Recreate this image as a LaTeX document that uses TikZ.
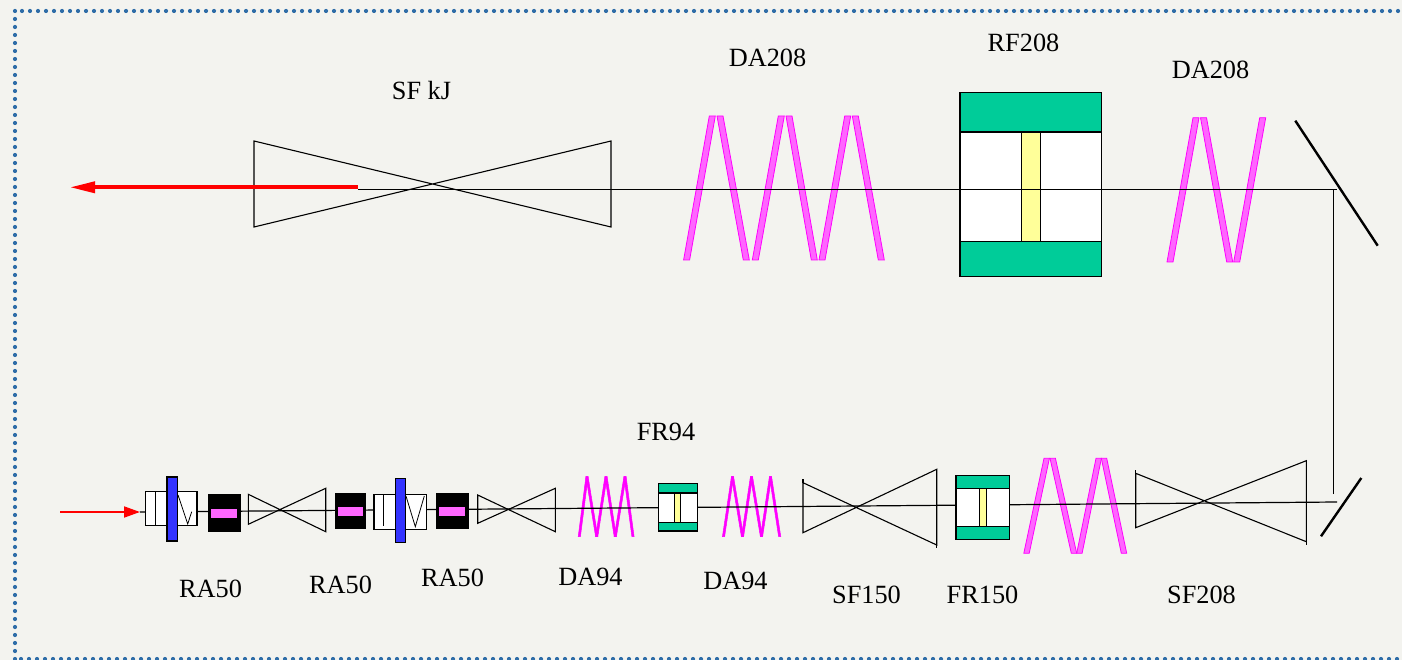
\documentclass[tikz,border=0pt]{standalone}
\usepackage{fontspec}
\setmainfont{Liberation Serif}
\usetikzlibrary{arrows.meta}
\definecolor{paper}{HTML}{F3F3EF}
\definecolor{borderblue}{HTML}{2F6DA8}
\definecolor{rodgreen}{HTML}{00CC99}
\definecolor{rodyellow}{HTML}{FFFF99}
\definecolor{plateblue}{HTML}{3333FF}
\definecolor{legpink}{HTML}{FF66FF}
\definecolor{legedge}{HTML}{FF00FF}
\definecolor{laserred}{HTML}{FF0000}
\tikzset{
borderdots/.style={draw=borderblue,line width=4.2pt,line cap=round,dash pattern=on 0pt off 8pt},
part/.style={draw=black,line width=1.1pt},
beam/.style={draw=black,line width=1.2pt},
mirror/.style={draw=black,line width=2.4pt},
leg/.style={draw=legedge,fill=legpink,line width=0.8pt},
legthin/.style={leg/.append style={fill=legedge,line width=0.5pt}},
laser/.style={draw=laserred,line width=1.8pt,-{Triangle[length=16pt,width=11pt]}},
laserout/.style={draw=laserred,line width=3.6pt,-{Triangle[length=25pt,width=11pt]}},
tag/.style={font=\fontsize{26.3}{30}\selectfont,text=black,inner sep=0pt}
}
\newcommand{\spatialfilter}[6]{\draw[part] (#1,#2) -- (#4,#6) -- (#4,#5) -- (#1,#3) -- cycle;}
\newcommand{\zigzag}[4]{\foreach \xb/\xt in {#4} {\path[leg] (\xb,#2) -- (\xb+#3,#2) -- (\xt+#3,#1) -- (\xt,#1) -- cycle;}}
\newcommand{\rotator}[8]{%
\filldraw[part,fill=white] (#1,#3) rectangle (#2,#6);
\filldraw[part,fill=rodgreen] (#1,#3) rectangle (#2,#4);
\filldraw[part,fill=rodgreen] (#1,#5) rectangle (#2,#6);
\filldraw[part,fill=rodyellow] (#7,#4) rectangle (#8,#5);}
\newcommand{\rodamp}[8]{%
\filldraw[draw=black,fill=black] (#1,#3) rectangle (#2,#4);
\fill[legpink] (#5,#7) rectangle (#6,#8);}
\begin{document}
\begin{tikzpicture}[x=1pt,y=-1pt]
\useasboundingbox (0,0) rectangle (1402,660);
\fill[paper] (0,0) rectangle (1402,660);
\path[borderdots] (15,11) -- (15,660);
\path[borderdots] (22,11) -- (1402,11);
\path[borderdots] (21,659) -- (1402,659);

\coordinate (laserstart) at (60,512);
\coordinate (beamstart) at (140,512);
\coordinate (beamturn) at (1337,502);
\coordinate (riserlow) at (1333.5,494);
\coordinate (riserhigh) at (1333.5,189.3);
\coordinate (beamtop) at (1337,189.3);
\coordinate (beamleft) at (358,189.3);
\coordinate (laserend) at (70,187.3);
\coordinate (laserfrom) at (358,187.3);

\spatialfilter{248.3}{494.3}{524.3}{325.7}{488.3}{531.7}
\spatialfilter{477.7}{495}{523.3}{555.3}{488.3}{531.7}
\spatialfilter{803}{482.7}{532.7}{936.7}{469.3}{545}
\spatialfilter{1135.7}{473.3}{527.7}{1306.3}{460.7}{541.7}
\draw[part] (803,479) -- (803,483);
\draw[part] (936.7,545) -- (936.7,548);
\draw[part] (1135.7,470) -- (1135.7,474);
\draw[part] (1306.3,541) -- (1306.3,545);
\begin{scope}[legthin]
\zigzag{476.7}{536.7}{2.2}{578.2/585.9,595.6/604.9,614.2/623.9,631.9/623.9,614.2/604.9,595.6/585.9}
\zigzag{476.7}{536.7}{2.2}{722.4/731.4,741.4/750.4,760.4/769.4,778.6/769.4,760.4/750.4,741.4/731.4}
\end{scope}
\zigzag{458.3}{553.3}{5.4}{1023.8/1044,1071.3/1050,1076.7/1096,1121.3/1101.3}
\draw[beam] (beamstart) -- (beamturn);
\draw[laser] (laserstart) -- (beamstart);

\filldraw[part,fill=white] (145.7,491.7) rectangle (197,525.3);
\draw[part] (155.3,492) -- (155.3,525);
\draw[line width=0.8pt] (178,495) -- (187.7,524) -- (191.7,511.7);
\filldraw[part,fill=plateblue] (167,477) rectangle (177.7,541);
\filldraw[part,fill=white] (374,494.3) rectangle (426.3,529.7);
\draw[part] (383.3,494.3) -- (383.3,525.7);
\draw[line width=0.8pt] (406,496) -- (415.3,526.7) -- (424.3,496);
\filldraw[part,fill=plateblue] (395.3,478.3) rectangle (405.7,542.7);
\rodamp{207.7}{239.7}{494}{531}{210.7}{237.3}{508.7}{518.3}
\rodamp{335}{365.3}{493.3}{528}{337.7}{362.7}{507.3}{515.7}
\rodamp{436.3}{467.7}{493.3}{528}{439}{465}{507.3}{515.7}
\rotator{658.3}{697.3}{483.3}{493}{522.3}{531}{674.7}{680.7}
\rotator{956}{1009.7}{475.3}{488.3}{526.7}{539.3}{979.3}{986.7}
\draw[mirror] (1321,536.3) -- (1361.3,478);

\spatialfilter{254}{141}{227}{611}{141}{227}
\zigzag{116}{260}{6}{683.6/709.3,743.3/717,752.3/778.3,811.3/786,819/844.7,878.3/852.3}
\zigzag{117.7}{262}{6}{1167/1193,1226.7/1200.5,1233.7/1259.7}
\rotator{960}{1101.7}{92.7}{132}{241.3}{276.7}{1021.7}{1040.3}
\draw[beam] (beamleft) -- (beamtop);
\draw[beam] (riserlow) -- (riserhigh);
\draw[laserout] (laserfrom) -- (laserend);
\draw[mirror] (1295.3,120.7) -- (1377.7,245.7);

\node[tag] (labelsfkj) at (421.5,91) {SF kJ};
\node[tag] (labeldaone) at (767.5,58) {DA208};
\node[tag] (labelrf) at (1023.5,43) {RF208};
\node[tag] (labeldatwo) at (1210.5,70) {DA208};
\node[tag] (labelfrsmall) at (666,432) {FR94};
\node[tag] (labelraone) at (210.5,589) {RA50};
\node[tag] (labelratwo) at (340.5,585) {RA50};
\node[tag] (labelrathree) at (452.5,578) {RA50};
\node[tag] (labeldasmall) at (590.5,577) {DA94};
\node[tag] (labeldasmalltwo) at (735.5,581) {DA94};
\node[tag] (labelsfsmall) at (866.5,595) {SF150};
\node[tag] (labelfr) at (982.5,595) {FR150};
\node[tag] (labelsf) at (1201.5,595) {SF208};
\end{tikzpicture}
\end{document}
